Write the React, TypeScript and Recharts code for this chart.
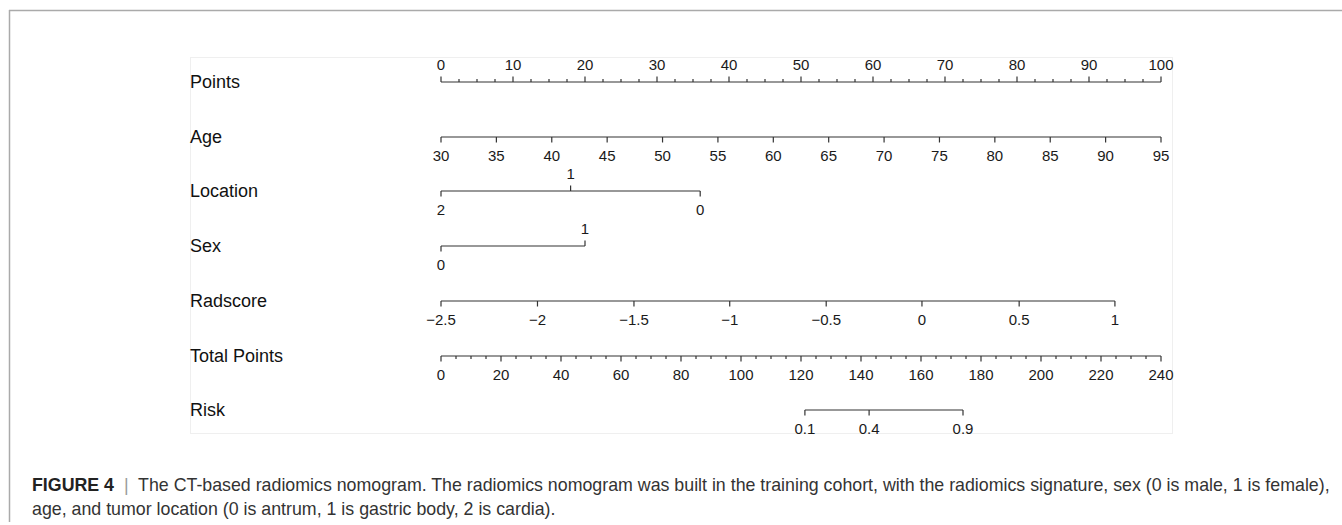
import React from 'react';
import { ComposedChart, XAxis, YAxis, Line } from 'recharts';

const W = 1342;
const H = 525;

// ---- data ----
const rowNames = ['Points', 'Age', 'Location', 'Sex', 'Radscore', 'Total Points', 'Risk'];

const pointsMajor = [0, 10, 20, 30, 40, 50, 60, 70, 80, 90, 100];
const pointsMinorPerMajor = 4;

const ageTicks = [30, 35, 40, 45, 50, 55, 60, 65, 70, 75, 80, 85, 90, 95];

const locationLabels = ['2', '1', '0'];
const locationPoints = [0, 18, 36];
const locationUp = [false, true, false];

const sexLabels = ['0', '1'];
const sexPoints = [0, 20];
const sexUp = [false, true];

const radscoreLabels = ['\u22122.5', '\u22122', '\u22121.5', '\u22121', '\u22120.5', '0', '0.5', '1'];
const radscorePoints = [0, 13.4, 26.8, 40.1, 53.5, 66.8, 80.3, 93.6];

const totalMajor = [0, 20, 40, 60, 80, 100, 120, 140, 160, 180, 200, 220, 240];
const totalMinorPerMajor = 4;

const riskLabels = ['0.1', '0.4', '0.9'];
const riskTotalPoints = [121.3, 142.7, 174.0];

const captionBold = 'FIGURE 4';
const captionLine1 =
  'The CT-based radiomics nomogram. The radiomics nomogram was built in the training cohort, with the radiomics signature, sex (0 is male, 1 is female),';
const captionLine2 = 'age, and tumor location (0 is antrum, 1 is gastric body, 2 is cardia).';

// ---- layout ----
const AXIS_LEFT = 441;
const AXIS_RIGHT = 1161;
const rowAxisY = [82, 137, 191, 246, 301, 356, 410];
const FONT = "'Liberation Sans', Arial, Helvetica, sans-serif";
const LINE_COLOR = '#333';

type Row = {
  name: string;
  domain: [number, number];
  positions: number[];
  labels: string[];
  up: boolean[];
  major: boolean[];
};

function withMinor(major: number[], per: number) {
  const pos: number[] = [];
  const isMajor: boolean[] = [];
  for (let i = 0; i < major.length; i++) {
    pos.push(major[i]);
    isMajor.push(true);
    if (i < major.length - 1) {
      const step = (major[i + 1] - major[i]) / per;
      for (let k = 1; k < per; k++) {
        pos.push(major[i] + step * k);
        isMajor.push(false);
      }
    }
  }
  return { pos, isMajor };
}

const pm = withMinor(pointsMajor, pointsMinorPerMajor);
const tm = withMinor(totalMajor, totalMinorPerMajor);

const rows: Row[] = [
  {
    name: rowNames[0],
    domain: [0, 100],
    positions: pm.pos,
    labels: pm.pos.map((v, i) => (pm.isMajor[i] ? String(v) : '')),
    up: pm.pos.map(() => true),
    major: pm.isMajor,
  },
  {
    name: rowNames[1],
    domain: [30, 95],
    positions: ageTicks,
    labels: ageTicks.map(String),
    up: ageTicks.map(() => false),
    major: ageTicks.map(() => true),
  },
  {
    name: rowNames[2],
    domain: [0, 100],
    positions: locationPoints,
    labels: locationLabels,
    up: locationUp,
    major: locationPoints.map(() => true),
  },
  {
    name: rowNames[3],
    domain: [0, 100],
    positions: sexPoints,
    labels: sexLabels,
    up: sexUp,
    major: sexPoints.map(() => true),
  },
  {
    name: rowNames[4],
    domain: [0, 100],
    positions: radscorePoints,
    labels: radscoreLabels,
    up: radscorePoints.map(() => false),
    major: radscorePoints.map(() => true),
  },
  {
    name: rowNames[5],
    domain: [0, 240],
    positions: tm.pos,
    labels: tm.pos.map((v, i) => (tm.isMajor[i] ? String(v) : '')),
    up: tm.pos.map(() => false),
    major: tm.isMajor,
  },
  {
    name: rowNames[6],
    domain: [0, 240],
    positions: riskTotalPoints,
    labels: riskLabels,
    up: riskTotalPoints.map(() => false),
    major: riskTotalPoints.map(() => true),
  },
];

const CH = 60; // chart height per row
const AX_H = 30; // axis line sits at CH - AX_H within each chart

function makeTick(row: Row) {
  return (props: any) => {
    const { x, y, payload } = props;
    const i = row.positions.indexOf(payload.value);
    if (i < 0) return <g />;
    const up = row.up[i];
    const len = row.major[i] ? 5.5 : 3;
    const dir = up ? -1 : 1;
    const label = row.labels[i];
    return (
      <g>
        <line x1={x} x2={x} y1={y} y2={y + dir * len} stroke={LINE_COLOR} strokeWidth={1.2} />
        {label ? (
          <text
            x={x}
            y={up ? y - 12 : y + 24}
            textAnchor="middle"
            fontSize={15}
            fontFamily={FONT}
            fill="#1a1a1a"
          >
            {label}
          </text>
        ) : null}
      </g>
    );
  };
}

function RowChart({ row, axisY }: { row: Row; axisY: number }) {
  const lineData = [
    { p: Math.min(...row.positions), y: 0 },
    { p: Math.max(...row.positions), y: 0 },
  ];
  return (
    <div style={{ position: 'absolute', left: 0, top: axisY - (CH - AX_H) }}>
      <ComposedChart
        width={W}
        height={CH}
        data={lineData}
        margin={{ top: 0, right: W - AXIS_RIGHT, bottom: 0, left: AXIS_LEFT }}
      >
        <XAxis
          dataKey="p"
          type="number"
          domain={row.domain}
          ticks={row.positions}
          interval={0}
          tickSize={0}
          tickMargin={0}
          tickLine={false}
          axisLine={false}
          height={AX_H}
          tick={makeTick(row)}
        />
        <YAxis hide type="number" domain={[0, 1]} width={0} />
        <Line
          dataKey="y"
          stroke={LINE_COLOR}
          strokeWidth={1.2}
          dot={false}
          activeDot={false}
          isAnimationActive={false}
        />
      </ComposedChart>
    </div>
  );
}

export default function App() {
  return (
    <div
      style={{
        position: 'absolute',
        left: 0,
        top: 0,
        width: W,
        height: H,
        background: '#fff',
        overflow: 'hidden',
      }}
    >
      <svg width={W} height={H} style={{ position: 'absolute', left: 0, top: 0 }}>
        <line x1={9} x2={W} y1={10.5} y2={10.5} stroke="#aaa" strokeWidth={1.5} />
        <line x1={9.5} x2={9.5} y1={10} y2={522} stroke="#aaa" strokeWidth={1.5} />
        <rect x={190.5} y={57.5} width={982} height={376} fill="none" stroke="#efefef" strokeWidth={1} />
        {rows.map((r, i) => (
          <text key={r.name} x={190} y={rowAxisY[i] + 6} fontSize={18} fontFamily={FONT} fill="#111">
            {r.name}
          </text>
        ))}
        <text x={32} y={491} fontSize={17.8} fontFamily={FONT} fill="#333" style={{ whiteSpace: 'pre' }}>
          <tspan fontWeight="bold" fill="#222">{captionBold}</tspan>
          <tspan fill="#999">{'  |  '}</tspan>
          <tspan>{captionLine1}</tspan>
        </text>
        <text x={32} y={515} fontSize={17.8} fontFamily={FONT} fill="#333">
          {captionLine2}
        </text>
      </svg>
      {rows.map((r, i) => (
        <RowChart key={r.name} row={r} axisY={rowAxisY[i]} />
      ))}
    </div>
  );
}
